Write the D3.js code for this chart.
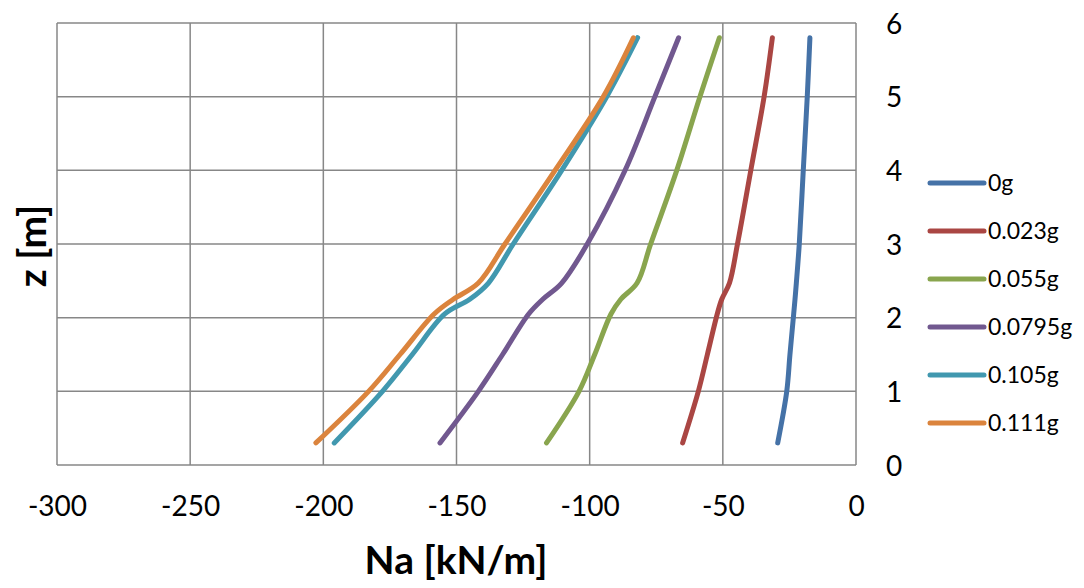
<!DOCTYPE html>
<html>
<head>
<meta charset="utf-8">
<script src="https://cdn.jsdelivr.net/npm/d3@7"></script>
<style>
  html, body { margin: 0; padding: 0; background: #fff; }
  svg { display: block; font-family: Lato, "Open Sans", sans-serif; }
</style>
</head>
<body>
<svg id="chart" width="1084" height="588"></svg>
<script>
// Data
const zLevels = [0.3, 1, 1.5, 2.05, 2.25, 2.47, 3, 4, 5, 5.8];
const seriesNames = ["0g", "0.023g", "0.055g", "0.0795g", "0.105g", "0.111g"];
const na_0g     = [-29.4, -26.0, -24.8, -23.4, -22.9, -22.4, -21.3, -19.8, -18.3, -17.3];
const na_0023g  = [-65.1, -59.2, -55.8, -52.1, -50.4, -47.5, -44.5, -39.5, -34.5, -31.4];
const na_0055g  = [-116.2, -104.0, -98.1, -92.0, -88.3, -82.2, -77.1, -67.3, -58.6, -51.3];
const na_00795g = [-156.2, -141.8, -132.7, -122.9, -117.6, -110.5, -100.9, -86.7, -75.5, -66.6];
const na_0105g  = [-195.9, -177.8, -166.6, -154.4, -145.0, -138.0, -128.7, -110.5, -93.6, -82.0];
const na_0111g  = [-202.8, -183.0, -171.2, -158.4, -151.2, -141.8, -131.8, -113.0, -94.9, -83.6];
const seriesValues = [na_0g, na_0023g, na_0055g, na_00795g, na_0105g, na_0111g];
const seriesColors = ["#4572A7", "#AA4643", "#89A54E", "#71588F", "#4198AF", "#DB843D"];
const xTicks = [-300, -250, -200, -150, -100, -50, 0];
const yTicks = [0, 1, 2, 3, 4, 5, 6];
const xTitle = "Na [kN/m]";
const yTitle = "z [m]";

const svg = d3.select("#chart");
const plot = { left: 57, right: 856, top: 23, bottom: 465 };

const x = d3.scaleLinear().domain([-300, 0]).range([plot.left, plot.right]);
const y = d3.scaleLinear().domain([0, 6]).range([plot.bottom, plot.top]);

// Gridlines
const grid = svg.append("g").attr("stroke", "#878787").attr("stroke-width", 1.5);
grid.selectAll("line.v").data(xTicks).enter().append("line")
  .attr("x1", d => x(d)).attr("x2", d => x(d))
  .attr("y1", plot.top).attr("y2", plot.bottom);
grid.selectAll("line.h").data(yTicks).enter().append("line")
  .attr("y1", d => y(d)).attr("y2", d => y(d))
  .attr("x1", plot.left).attr("x2", plot.right);

// X axis tick labels
const fmt = d => String(d);
const xAxis = d3.axisBottom(x).tickValues(xTicks).tickSize(0).tickPadding(0).tickFormat(fmt);
const gx = svg.append("g").attr("transform", `translate(0, ${plot.bottom + 31})`).call(xAxis);
gx.select(".domain").remove();
gx.selectAll("text").attr("font-size", 28).attr("fill", "#000").attr("font-family", "Lato, sans-serif").attr("dy", "0.72em");

// Y axis tick labels (right side)
const yAxis = d3.axisRight(y).tickValues(yTicks).tickSize(0).tickPadding(0).tickFormat(fmt);
const gy = svg.append("g").attr("transform", `translate(${plot.right + 30}, 0)`).call(yAxis);
gy.select(".domain").remove();
gy.selectAll("text").attr("font-size", 28).attr("fill", "#000").attr("font-family", "Lato, sans-serif").attr("dy", "0.36em");

// Lines
const line = d3.line()
  .x(d => x(d.v))
  .y(d => y(d.z))
  .curve(d3.curveCatmullRom.alpha(0.5));

seriesValues.forEach((vals, i) => {
  const pts = zLevels.map((z, j) => ({ z: z, v: vals[j] }));
  svg.append("path")
    .datum(pts)
    .attr("d", line)
    .attr("fill", "none")
    .attr("stroke", seriesColors[i])
    .attr("stroke-width", 5)
    .attr("stroke-linecap", "round")
    .attr("stroke-linejoin", "round");
});

// Legend
const legend = svg.append("g");
seriesNames.forEach((name, i) => {
  const ly = 183 + i * 48;
  legend.append("line")
    .attr("x1", 930).attr("x2", 984).attr("y1", ly).attr("y2", ly)
    .attr("stroke", seriesColors[i]).attr("stroke-width", 5).attr("stroke-linecap", "round");
  legend.append("text")
    .attr("x", 988).attr("y", ly).attr("dy", "0.36em")
    .attr("font-size", 23).attr("fill", "#000")
    .text(name);
});

// Axis titles
svg.append("text")
  .attr("x", 456).attr("y", 574)
  .attr("text-anchor", "middle")
  .attr("font-size", 39).attr("font-weight", "bold").attr("fill", "#000")
  .text(xTitle);

svg.append("text")
  .attr("transform", "translate(46, 246) rotate(-90)")
  .attr("text-anchor", "middle")
  .attr("font-size", 39).attr("font-weight", "bold").attr("fill", "#000")
  .text(yTitle);
</script>
</body>
</html>
